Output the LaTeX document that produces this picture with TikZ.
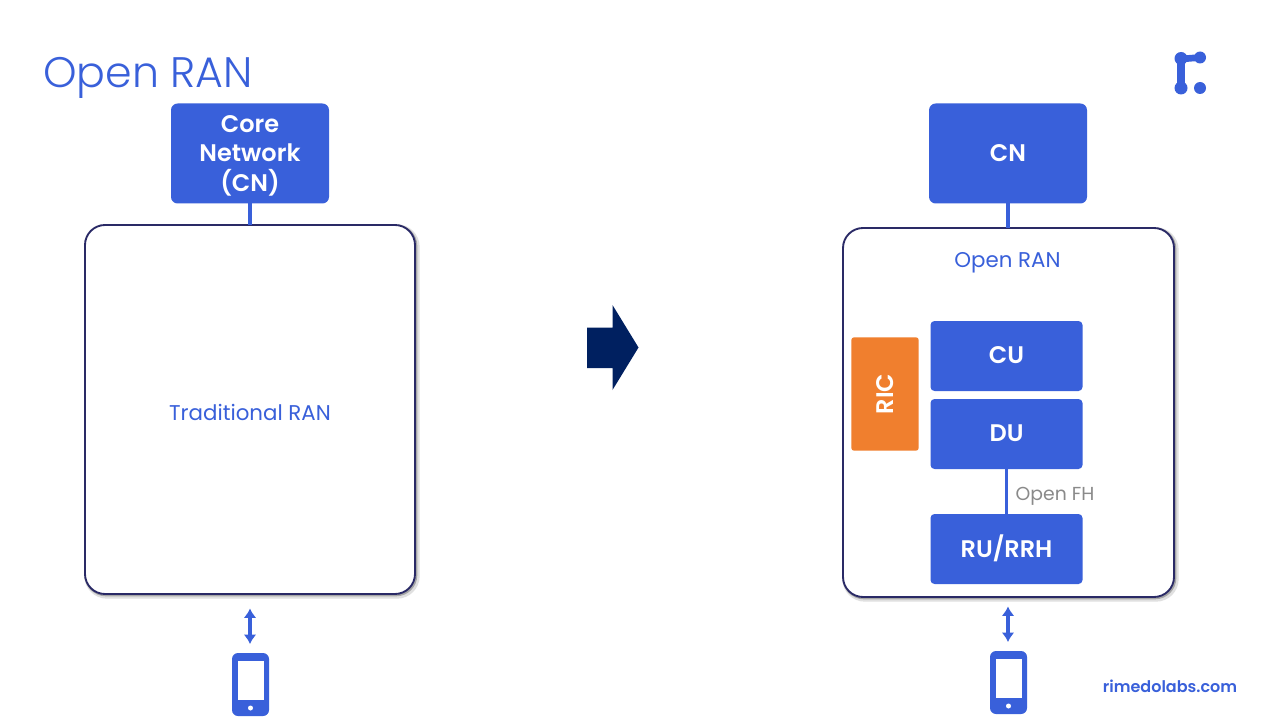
\documentclass[tikz,border=0pt]{standalone}
\usepackage{fontspec}
\setmainfont{Poppins}
\usetikzlibrary{arrows.meta}
\definecolor{rblue}{HTML}{3960DA}
\definecolor{rorange}{HTML}{F07F2E}
\definecolor{rnavy}{HTML}{2A2A66}
\definecolor{rdark}{HTML}{002060}
\definecolor{rgreytxt}{HTML}{8A8A8A}
\tikzset{
  bluebox/.style={draw=none,fill=rblue,rounded corners=5pt,text=white,align=center,inner sep=0pt,outer sep=0pt,font=\fontsize{18}{21.5}\selectfont\setmainfont{Poppins SemiBold}},
  panel/.style={draw=rnavy,line width=1.4pt,fill=white,rounded corners=15pt,inner sep=0pt,outer sep=0pt},
  panelshadowa/.style={draw=black!12,line width=4pt,rounded corners=15pt},
  panelshadowb/.style={draw=black!35,line width=2pt,rounded corners=15pt},
  link/.style={draw=rblue,line width=2.3pt},
  updown/.style={draw=rblue,line width=3pt,{Latex[length=7pt,width=9.5pt]}-{Latex[length=7pt,width=9.5pt]}},
  bluetxt/.style={text=rblue,inner sep=0pt,font=\fontsize{16}{19}\selectfont\setmainfont{Poppins}}
}
\newcommand{\phoneicon}[2]{%
  \fill[rblue,rounded corners=4.5pt] (#1-18.5,#2-31.5) rectangle (#1+18.5,#2+31.5);
  \fill[white] (#1-13,#2-23.5) rectangle (#1+13,#2+15.5);
  \fill[white] (#1,#2+23.5) circle (2.5);
}
\begin{document}
\begin{tikzpicture}[x=0.75pt,y=-0.75pt]
\useasboundingbox (0,0) rectangle (1280,720);
\fill[white] (0,0) rectangle (1280,720);
\node[anchor=west,inner sep=0pt,text=rblue,font=\fontsize{32}{36}\selectfont\setmainfont{Poppins Light}] (title) at (43,77.5) {Open RAN};
% logo
\draw[rblue,line width=5.5pt,line cap=round] (1181,60) -- (1181,88);
\draw[rblue,line width=5pt,line cap=round] (1181,59) -- (1200,57.5);
\fill[rblue] (1181,58.5) circle (6.5) (1200,57.5) circle (6) (1181,88) circle (6.5) (1200,88) circle (6);
% left
\draw[panelshadowa] (87,227) rectangle (417,596);
\draw[panelshadowb] (86,226) rectangle (416,595);
\node[panel,minimum width=247.5pt,minimum height=276.75pt,anchor=north west] (tran) at (85,225) {};
\node[bluebox,minimum width=118.5pt,minimum height=75pt] (core) at (250,153.5) {\rule{0pt}{16pt}Core\\[0.5pt]Network\\[0.5pt](CN)};
\draw[link] (core.south) -- (core.south |- tran.north);
\node[bluetxt] (tlabel) at (250,412.5) {Traditional RAN};
\coordinate (a1) at (250,608.5);
\coordinate (a2) at (250,644);
\draw[updown] (a1) -- (a2);
\phoneicon{250.5}{684.5}
% big arrow
\fill[rdark] (587,327.5) -- (612.5,327.5) -- (612.5,305) -- (638.5,347.5) -- (612.5,390) -- (612.5,368) -- (587,368) -- cycle;
% right
\draw[panelshadowa] (845,230) rectangle (1176,599);
\draw[panelshadowb] (844,229) rectangle (1175,598);
\node[panel,minimum width=248.25pt,minimum height=276.75pt,anchor=north west] (oran) at (843,228) {};
\node[bluebox,minimum width=118.5pt,minimum height=75pt] (cn) at (1008,153.5) {CN};
\draw[link] (cn.south) -- (cn.south |- oran.north);
\node[bluetxt] (olabel) at (1007.5,263) {Open RAN};
\node[bluebox,rounded corners=3pt,minimum width=114pt,minimum height=52.5pt] (cu) at (1006.5,356) {\rule[-1.5pt]{0pt}{0pt}CU};
\node[bluebox,rounded corners=3pt,minimum width=114pt,minimum height=52.5pt] (du) at (1006.5,434) {\rule[-1.5pt]{0pt}{0pt}DU};
\node[bluebox,rounded corners=3pt,minimum width=114pt,minimum height=52.5pt] (ru) at (1006.5,549) {\rule[-5pt]{0pt}{0pt}RU/RRH};
\node[bluebox,rounded corners=2pt,fill=rorange,minimum width=50.5pt,minimum height=85pt] (ric) at (885,394) {\rotatebox{90}{RIC}};
\draw[link] (du.south) -- (ru.north);
\node[inner sep=0pt,text=rgreytxt,font=\fontsize{14.1}{17}\selectfont\setmainfont{Poppins}] (fh) at (1055,496.5) {Open FH};
\coordinate (b1) at (1008,606.5);
\coordinate (b2) at (1008,642);
\draw[updown] (b1) -- (b2);
\phoneicon{1008.5}{682.5}
\node[inner sep=0pt,text=rblue,font=\fontsize{12}{15}\selectfont\setmainfont{Poppins SemiBold}] (site) at (1170,686) {rimedolabs.com};
\end{tikzpicture}
\end{document}
